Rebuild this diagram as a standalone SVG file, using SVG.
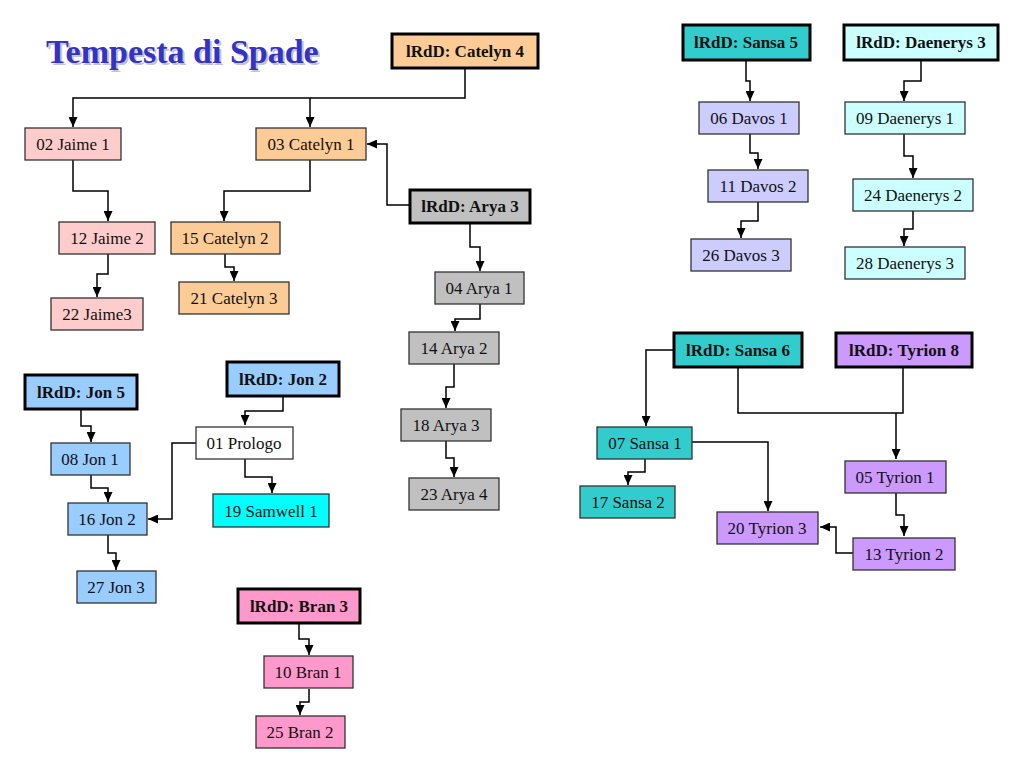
<svg xmlns="http://www.w3.org/2000/svg" width="1024" height="768" viewBox="0 0 1024 768">
<style>
.n rect{stroke:#333;stroke-width:1.3}
.h rect{stroke:#000;stroke-width:3}
text{font-family:"Liberation Serif","Times New Roman",serif;font-size:17px;fill:#111;text-anchor:middle}
.h text{font-weight:bold}
.c path{fill:none;stroke:#000;stroke-width:1.5}
.title{font-size:34px;font-weight:bold;text-anchor:start}
</style>
<defs>
<marker id="ah" markerUnits="userSpaceOnUse" markerWidth="10" markerHeight="9" refX="10" refY="4.5" orient="auto">
<path d="M0,0 L10,4.5 L0,9 z" fill="#000"/>
</marker>
</defs>
<rect width="1024" height="768" fill="#fff"/>
<g id="title">
<text class="title" x="48" y="65" style="fill:#c4c4d0">Tempesta di Spade</text>
<text class="title" x="46" y="63" style="fill:#3434c4">Tempesta di Spade</text>
</g>
<g class="c" id="connectors">
<path d="M465,69 V98 H73 V127" marker-end="url(#ah)"/>
<path d="M310,98 V127" marker-end="url(#ah)"/>
<path d="M410,205 H387 V144 H367" marker-end="url(#ah)"/>
<path d="M73,160 V191 H108 V221" marker-end="url(#ah)"/>
<path d="M310,160 V191 H224 V221" marker-end="url(#ah)"/>
<path d="M108,254 V274 H97 V297" marker-end="url(#ah)"/>
<path d="M225,254 V267 H234 V281" marker-end="url(#ah)"/>
<path d="M470,223 V247 H480 V271" marker-end="url(#ah)"/>
<path d="M480,304 V319 H455 V331" marker-end="url(#ah)"/>
<path d="M454,364 V387 H446 V408" marker-end="url(#ah)"/>
<path d="M446,441 V458 H454 V477" marker-end="url(#ah)"/>
<path d="M746,60 V81 H750 V101" marker-end="url(#ah)"/>
<path d="M750,134 V153 H758 V169" marker-end="url(#ah)"/>
<path d="M758,202 V221 H741 V238" marker-end="url(#ah)"/>
<path d="M921,60 V81 H904 V101" marker-end="url(#ah)"/>
<path d="M904,134 V156 H913 V178" marker-end="url(#ah)"/>
<path d="M913,211 V229 H904 V246" marker-end="url(#ah)"/>
<path d="M674,350 H646 V426" marker-end="url(#ah)"/>
<path d="M738,367 V413 H903 V367"/>
<path d="M896,413 V459" marker-end="url(#ah)"/>
<path d="M692,442 H768 V511" marker-end="url(#ah)"/>
<path d="M645,459 V472 H628 V485" marker-end="url(#ah)"/>
<path d="M896,493 V515 H904 V536" marker-end="url(#ah)"/>
<path d="M853,553 H836 V527 H820" marker-end="url(#ah)"/>
<path d="M81,409 V426 H91 V442" marker-end="url(#ah)"/>
<path d="M91,475 V488 H108 V502" marker-end="url(#ah)"/>
<path d="M108,535 V553 H116 V570" marker-end="url(#ah)"/>
<path d="M283,396 V411 H245 V425" marker-end="url(#ah)"/>
<path d="M196,443 H172 V519 H148" marker-end="url(#ah)"/>
<path d="M245,459 V477 H272 V493" marker-end="url(#ah)"/>
<path d="M299,623 V639 H309 V655" marker-end="url(#ah)"/>
<path d="M309,689 V702 H300 V715" marker-end="url(#ah)"/>
</g>
<g id="lrdd-catelyn4" class="h"><rect x="392" y="34" width="146" height="34" fill="#fccb96"/><text x="465" y="57">lRdD: Catelyn 4</text></g>
<g id="jaime1" class="n"><rect x="25" y="128" width="96" height="32" fill="#ffcccc"/><text x="73" y="150">02 Jaime 1</text></g>
<g id="catelyn1" class="n"><rect x="256" y="128" width="110" height="32" fill="#fccb96"/><text x="311" y="150">03 Catelyn 1</text></g>
<g id="lrdd-arya3" class="h"><rect x="410" y="190" width="120" height="33" fill="#c0c0c0"/><text x="470" y="212">lRdD: Arya 3</text></g>
<g id="jaime2" class="n"><rect x="59" y="222" width="96" height="32" fill="#ffcccc"/><text x="107" y="244">12 Jaime 2</text></g>
<g id="catelyn2" class="n"><rect x="171" y="222" width="109" height="32" fill="#fccb96"/><text x="225" y="244">15 Catelyn 2</text></g>
<g id="jaime3" class="n"><rect x="51" y="298" width="92" height="32" fill="#ffcccc"/><text x="97" y="320">22 Jaime3</text></g>
<g id="catelyn3" class="n"><rect x="179" y="282" width="110" height="32" fill="#fccb96"/><text x="234" y="304">21 Catelyn 3</text></g>
<g id="arya1" class="n"><rect x="435" y="272" width="89" height="32" fill="#c0c0c0"/><text x="479" y="294">04 Arya 1</text></g>
<g id="arya2" class="n"><rect x="409" y="332" width="90" height="32" fill="#c0c0c0"/><text x="454" y="354">14 Arya 2</text></g>
<g id="arya3" class="n"><rect x="401" y="409" width="90" height="32" fill="#c0c0c0"/><text x="446" y="431">18 Arya 3</text></g>
<g id="arya4" class="n"><rect x="409" y="478" width="90" height="32" fill="#c0c0c0"/><text x="454" y="500">23 Arya 4</text></g>
<g id="lrdd-sansa5" class="h"><rect x="683" y="25" width="127" height="35" fill="#33cccc"/><text x="746" y="48">lRdD: Sansa 5</text></g>
<g id="lrdd-daenerys3" class="h"><rect x="844" y="25" width="154" height="35" fill="#ccffff"/><text x="921" y="48">lRdD: Daenerys 3</text></g>
<g id="davos1" class="n"><rect x="699" y="102" width="100" height="32" fill="#ccccff"/><text x="749" y="124">06 Davos 1</text></g>
<g id="davos2" class="n"><rect x="708" y="170" width="100" height="32" fill="#ccccff"/><text x="758" y="192">11 Davos 2</text></g>
<g id="davos3" class="n"><rect x="691" y="239" width="100" height="32" fill="#ccccff"/><text x="741" y="261">26 Davos 3</text></g>
<g id="daenerys1" class="n"><rect x="845" y="102" width="120" height="32" fill="#ccffff"/><text x="905" y="124">09 Daenerys 1</text></g>
<g id="daenerys2" class="n"><rect x="853" y="179" width="120" height="32" fill="#ccffff"/><text x="913" y="201">24 Daenerys 2</text></g>
<g id="daenerys3" class="n"><rect x="845" y="247" width="120" height="32" fill="#ccffff"/><text x="905" y="269">28 Daenerys 3</text></g>
<g id="lrdd-sansa6" class="h"><rect x="674" y="333" width="128" height="34" fill="#33cccc"/><text x="738" y="356">lRdD: Sansa 6</text></g>
<g id="lrdd-tyrion8" class="h"><rect x="836" y="333" width="136" height="34" fill="#cc99ff"/><text x="904" y="356">lRdD: Tyrion 8</text></g>
<g id="sansa1" class="n"><rect x="597" y="427" width="95" height="32" fill="#33cccc"/><text x="645" y="449">07 Sansa 1</text></g>
<g id="sansa2" class="n"><rect x="580" y="486" width="95" height="32" fill="#33cccc"/><text x="628" y="508">17 Sansa 2</text></g>
<g id="tyrion1" class="n"><rect x="845" y="461" width="101" height="32" fill="#cc99ff"/><text x="895" y="483">05 Tyrion 1</text></g>
<g id="tyrion3" class="n"><rect x="717" y="512" width="101" height="32" fill="#cc99ff"/><text x="767" y="534">20 Tyrion 3</text></g>
<g id="tyrion2" class="n"><rect x="853" y="538" width="102" height="32" fill="#cc99ff"/><text x="904" y="560">13 Tyrion 2</text></g>
<g id="lrdd-jon5" class="h"><rect x="25" y="375" width="112" height="34" fill="#99ccff"/><text x="81" y="398">lRdD: Jon 5</text></g>
<g id="lrdd-jon2" class="h"><rect x="227" y="362" width="112" height="34" fill="#99ccff"/><text x="283" y="385">lRdD: Jon 2</text></g>
<g id="prologo" class="n"><rect x="196" y="427" width="97" height="32" fill="#ffffff"/><text x="244" y="449">01 Prologo</text></g>
<g id="jon1" class="n"><rect x="51" y="443" width="79" height="32" fill="#99ccff"/><text x="90" y="465">08 Jon 1</text></g>
<g id="jon2" class="n"><rect x="68" y="503" width="79" height="32" fill="#99ccff"/><text x="107" y="525">16 Jon 2</text></g>
<g id="jon3" class="n"><rect x="77" y="571" width="79" height="32" fill="#99ccff"/><text x="116" y="593">27 Jon 3</text></g>
<g id="samwell1" class="n"><rect x="213" y="494" width="116" height="33" fill="#00ffff"/><text x="271" y="517">19 Samwell 1</text></g>
<g id="lrdd-bran3" class="h"><rect x="238" y="589" width="122" height="34" fill="#ff99cc"/><text x="299" y="612">lRdD: Bran 3</text></g>
<g id="bran1" class="n"><rect x="264" y="656" width="89" height="32" fill="#ff99cc"/><text x="308" y="678">10 Bran 1</text></g>
<g id="bran2" class="n"><rect x="256" y="716" width="89" height="32" fill="#ff99cc"/><text x="300" y="738">25 Bran 2</text></g>
</svg>
